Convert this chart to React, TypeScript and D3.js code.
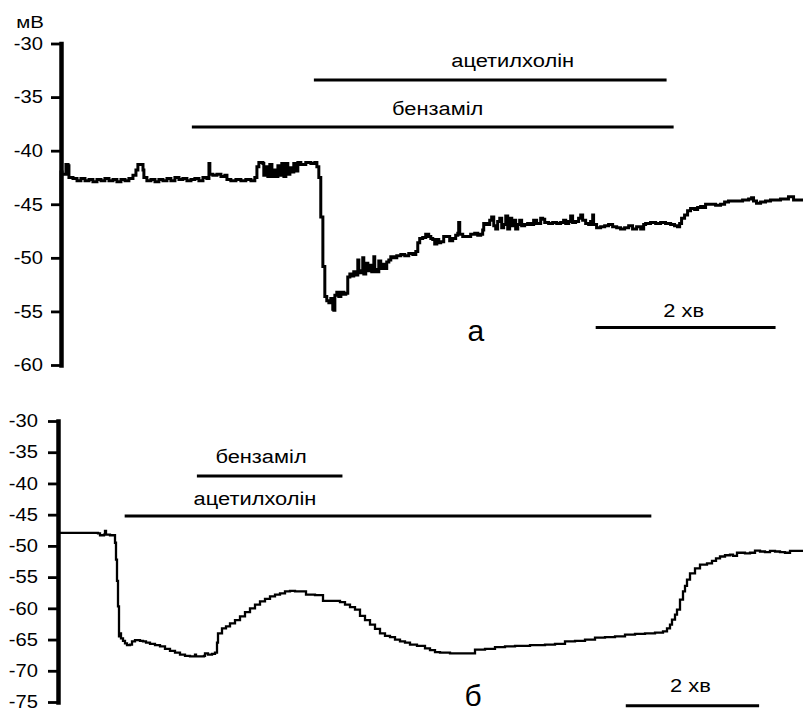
import React, { useEffect, useRef } from "react";
import * as d3 from "d3";

// ---------- DATA ----------
// Panel "а": time (s) and membrane potential (mV)
const TOP_T = [-1, 0, 0.7, 2, 3.3, 4.7, 5.3, 8, 10.7, 13.3, 16, 18.7, 21.3, 24, 26.7, 29.3, 32, 34.7, 37.3, 40, 42.7, 45.3, 48, 50, 51.3, 53.3, 54.7, 55.3, 57.3, 60, 62.7, 65.3, 68, 70.7, 73.3, 76, 78.7, 81.3, 84, 86.7, 89.3, 92, 94.7, 97.3, 98.7, 99.3, 101.3, 104, 106.7, 109.3, 110.7, 113.3, 116.7, 120, 123.3, 126.7, 129.3, 130.7, 132, 134.7, 135.3, 136.7, 138, 139.3, 140.7, 142, 143.3, 144.7, 146, 147.3, 148.7, 150, 151.3, 152.7, 154, 155.3, 156.7, 158, 160, 163.3, 166.7, 169.3, 170.7, 172, 173.3, 174.7, 176, 177.3, 178.7, 180, 181.3, 182, 182.7, 184, 185.3, 186.7, 188.7, 190, 191.3, 192.7, 194, 195.3, 196.7, 198, 198.7, 200, 201.3, 202, 203.3, 204.7, 206, 207.3, 208.7, 209.3, 210.7, 212, 213.3, 214.7, 216, 217.3, 218.7, 220, 222, 224, 226.7, 229.3, 232, 234.7, 236.7, 238, 239.3, 241.3, 243.3, 245.3, 246.7, 248, 249.3, 250.7, 252, 253.3, 255.3, 257.3, 259.3, 261.3, 263.3, 264.7, 265.3, 266, 268, 270.7, 273.3, 276, 278, 280, 281.3, 282, 284, 286, 287.3, 288.7, 290, 291.3, 292.7, 294, 295.3, 296.7, 298, 299.3, 300.7, 302, 303.3, 304.7, 306, 307.3, 309.3, 311.3, 313.3, 315.3, 317.3, 320, 321.3, 322.7, 325.3, 328, 330.7, 333.3, 335.3, 336.7, 338.7, 340, 341.3, 343.3, 345.3, 346.7, 348, 350, 352, 353.3, 354.7, 355.3, 357.3, 360, 362.7, 365.3, 368, 370.7, 373.3, 376, 378.7, 381.3, 384, 386.7, 388.7, 390, 393.3, 396.7, 400, 403.3, 406.7, 409.3, 411.3, 412.7, 414, 416, 418, 420, 422.7, 424.7, 426.7, 428.7, 430, 433.3, 436.7, 440, 442.7, 445.3, 450, 454.7, 458.7, 460.7, 462, 464, 466.7, 470, 473.3, 476.7, 480, 483.3, 485.3, 487.3, 488.7, 492, 495];
const TOP_MV = [-45.0, -42.0, -42.2, -42.2, -41.3, -41.4, -42.5, -42.6, -42.8, -42.6, -42.8, -42.7, -42.9, -42.7, -42.8, -42.6, -42.8, -42.7, -42.9, -42.7, -42.8, -42.6, -42.3, -41.8, -41.3, -41.3, -41.8, -42.5, -42.8, -42.7, -42.9, -42.7, -42.8, -42.6, -42.8, -42.5, -42.7, -42.6, -42.8, -42.7, -42.6, -42.8, -42.5, -42.6, -41.2, -42.2, -42.3, -42.2, -42.4, -42.3, -42.7, -42.8, -42.7, -42.8, -42.7, -42.8, -42.5, -41.5, -41.1, -41.2, -42.3, -41.5, -42.4, -41.3, -42.4, -41.8, -42.4, -41.4, -42.3, -41.2, -42.4, -41.2, -42.2, -41.6, -42.0, -41.2, -41.9, -41.1, -41.3, -41.1, -41.2, -41.1, -41.5, -42.5, -46.2, -50.8, -53.6, -54.0, -54.2, -53.8, -54.8, -54.9, -53.5, -53.2, -53.6, -53.2, -53.4, -53.3, -51.8, -51.5, -51.7, -51.3, -51.6, -50.2, -51.4, -51.2, -50.0, -51.5, -50.5, -51.2, -50.7, -51.3, -49.9, -51.1, -51.3, -50.3, -51.0, -50.6, -51.0, -50.4, -50.2, -49.9, -50.0, -49.8, -49.7, -49.8, -49.6, -49.7, -49.4, -48.6, -48.2, -48.1, -47.8, -48.0, -48.2, -48.3, -48.7, -48.3, -48.6, -48.5, -48.0, -48.0, -48.4, -48.2, -47.9, -47.7, -46.7, -47.8, -48.0, -48.0, -47.8, -47.7, -47.9, -47.8, -47.4, -46.8, -46.9, -46.5, -46.2, -47.0, -47.3, -46.6, -46.3, -47.2, -46.9, -46.1, -47.3, -46.3, -47.0, -46.5, -47.3, -46.9, -46.5, -47.0, -46.9, -46.8, -46.9, -46.5, -46.8, -46.3, -46.4, -46.7, -46.8, -46.7, -46.8, -46.7, -46.5, -46.8, -46.6, -46.1, -46.7, -46.6, -46.3, -46.0, -46.5, -46.8, -46.9, -46.6, -46.0, -46.9, -47.2, -47.1, -47.0, -46.9, -47.1, -47.2, -47.3, -47.2, -47.0, -47.3, -47.1, -47.3, -46.9, -46.8, -46.7, -46.8, -46.7, -46.8, -46.9, -47.0, -47.1, -46.8, -46.3, -46.0, -45.6, -45.4, -45.5, -45.3, -45.2, -45.3, -45.0, -45.0, -45.1, -45.0, -44.8, -44.7, -44.7, -44.6, -44.5, -44.4, -44.7, -44.9, -44.8, -44.7, -44.6, -44.6, -44.5, -44.5, -44.3, -44.3, -44.6, -44.6, -44.6];

// Panel "б": time (s) and membrane potential (mV)
const BOT_T = [0, 10.8, 19.8, 28.8, 36, 37.8, 41.4, 42.3, 43.2, 46.8, 50.4, 51.3, 52.2, 53.1, 54, 54.9, 55.8, 56.7, 58.5, 60.3, 62.1, 64.8, 66.6, 69.3, 73.8, 76.5, 79.2, 82.8, 87.3, 91.8, 96.3, 100.8, 105.3, 109.8, 114.3, 118.8, 123.3, 124.2, 127.8, 131.4, 132.3, 135, 138.6, 141.3, 143.1, 144, 147.6, 151.2, 154.8, 159.3, 163.8, 168.3, 172.8, 177.3, 181.8, 186.3, 190.8, 195.3, 199.8, 204.3, 208.8, 213.3, 217.8, 223.2, 231.3, 238.5, 244.8, 249.3, 253.8, 258.3, 262.8, 267.3, 271.8, 276.3, 280.8, 285.3, 289.8, 294.3, 298.8, 303.3, 307.8, 312.3, 316.8, 323.1, 330.3, 334.8, 339.3, 343.8, 352.8, 361.8, 370.8, 375.3, 384.3, 393.3, 402.3, 411.3, 424.8, 438.3, 447.3, 456.3, 465.3, 474.3, 483.3, 492.3, 501.3, 510.3, 519.3, 528.3, 537.3, 544.5, 548.1, 550.8, 552.6, 555.3, 557.1, 559.8, 562.5, 564.3, 566.1, 568.8, 573.3, 577.8, 584.1, 588.6, 592.2, 595.8, 600.3, 604.8, 607.5, 611.1, 618.3, 622.8, 627.3, 631.8, 636.3, 640.8, 645.3, 649.8, 654.3, 658.8, 663.3, 670.5];
const BOT_MV = [-47.9, -47.9, -47.9, -47.9, -48.0, -48.3, -48.2, -47.6, -48.2, -48.3, -48.3, -49.5, -52.2, -55.6, -59.7, -64.5, -64.0, -64.8, -65.2, -65.6, -65.9, -65.8, -65.3, -65.1, -65.2, -65.3, -65.5, -65.7, -65.9, -66.1, -66.5, -66.8, -67.1, -67.4, -67.6, -67.7, -67.4, -67.7, -67.7, -67.6, -67.2, -67.4, -67.3, -67.1, -65.5, -64.0, -63.2, -62.9, -62.4, -61.9, -61.3, -60.6, -60.0, -59.4, -58.9, -58.5, -58.1, -57.8, -57.6, -57.3, -57.2, -57.3, -57.3, -57.8, -57.9, -58.8, -58.8, -58.8, -59.0, -59.4, -59.8, -60.2, -61.2, -61.9, -62.6, -63.3, -64.0, -64.4, -64.6, -65.0, -65.3, -65.5, -65.8, -66.0, -66.4, -66.7, -67.0, -67.1, -67.2, -67.2, -67.2, -66.6, -66.5, -66.2, -66.1, -66.0, -65.9, -65.8, -65.7, -65.3, -65.2, -65.0, -64.7, -64.6, -64.5, -64.2, -64.1, -64.0, -63.9, -63.7, -63.2, -62.6, -61.8, -61.0, -60.2, -58.6, -57.3, -56.4, -55.4, -54.4, -53.6, -53.0, -52.8, -52.4, -52.0, -51.7, -51.5, -51.4, -51.6, -51.1, -51.2, -51.1, -50.75, -50.9, -51.0, -50.8, -50.9, -51.0, -51.1, -50.8, -50.8, -50.75];

// Axis ticks (mV)
const TOP_TICKS = [-30, -35, -40, -45, -50, -55, -60];
const BOT_TICKS = [-30, -35, -40, -45, -50, -55, -60, -65, -70, -75];

// Drug application bars: label, start (s), end (s), drawn level (mV)
const TOP_DRUGS = [
  { label: "ацетилхолін", start: 168.7, end: 404, level: -33.4 },
  { label: "бензаміл", start: 87.3, end: 408.7, level: -37.8 },
];
const BOT_DRUGS = [
  { label: "бензаміл", start: 125, end: 256, level: -38.8 },
  { label: "ацетилхолін", start: 60, end: 534, level: -45.2 },
];

// Time scale bars: start (s), length (s), label
const TOP_SCALEBAR = { start: 356.7, length: 120, label: "2 хв", level: -56.5 };
const BOT_SCALEBAR = { start: 511, length: 120, label: "2 хв", level: -75.6 };

// ---------- LAYOUT ----------
const W = 803;
const H = 712;
const FONT = "Arial, 'Liberation Sans', sans-serif";
const STRETCH = 1.15;

type Drug = { label: string; start: number; end: number; level: number };
type Panel = {
  t: number[];
  v: number[];
  ticks: number[];
  drugs: Drug[];
  drugLabelT: number[];
  drugLabelV: number[];
  bar: { start: number; length: number; label: string; level: number };
  barLabelV: number;
  panelLabel: string;
  panelLabelT: number;
  panelLabelV: number;
  xDomain: [number, number];
  xRange: [number, number];
  yDomain: [number, number];
  yRange: [number, number];
  lineW: number;
  labelEnd: number;
};

const PANELS: Panel[] = [
  {
    t: TOP_T,
    v: TOP_MV,
    ticks: TOP_TICKS,
    drugs: TOP_DRUGS,
    drugLabelT: [301.3, 251.3],
    drugLabelV: [-32.2, -36.7],
    bar: TOP_SCALEBAR,
    barLabelV: -55.5,
    panelLabel: "а",
    panelLabelT: 276.7,
    panelLabelV: -57.8,
    xDomain: [0, 495],
    xRange: [61, 803],
    yDomain: [-60, -30],
    yRange: [365, 43.5],
    lineW: 3,
    labelEnd: 18,
  },
  {
    t: BOT_T,
    v: BOT_MV,
    ticks: BOT_TICKS,
    drugs: BOT_DRUGS,
    drugLabelT: [182.7, 177.3],
    drugLabelV: [-36.7, -43.4],
    bar: BOT_SCALEBAR,
    barLabelV: -73.4,
    panelLabel: "б",
    panelLabelT: 373.5,
    panelLabelV: -75.6,
    xDomain: [0, 670.5],
    xRange: [58, 803],
    yDomain: [-75, -30],
    yRange: [702, 421],
    lineW: 2.3,
    labelEnd: 20,
  },
];

function stretchedText(
  g: any,
  x: number,
  y: number,
  txt: string,
  size: number,
  sx = STRETCH
) {
  g.append("text")
    .attr("transform", `translate(${x},${y}) scale(${sx},1)`)
    .attr("text-anchor", "middle")
    .attr("font-family", FONT)
    .attr("font-size", size)
    .attr("fill", "#000")
    .text(txt);
}

export default function App() {
  const ref = useRef<SVGSVGElement | null>(null);

  useEffect(() => {
    const svg = d3.select(ref.current as SVGSVGElement);
    svg.selectAll("*").remove();
    const root = svg.append("g");

    PANELS.forEach((p, pi) => {
      const x = d3.scaleLinear().domain(p.xDomain).range(p.xRange);
      const y = d3.scaleLinear().domain(p.yDomain).range(p.yRange);
      const g = root.append("g");

      // trace
      const idx = d3.range(p.t.length);
      const line = d3
        .line<number>()
        .x((i) => x(p.t[i]))
        .y((i) => y(p.v[i]))
        .curve(d3.curveStepAfter);
      g.append("path")
        .attr("d", line(idx) as string)
        .attr("fill", "none")
        .attr("stroke", "#000")
        .attr("stroke-width", p.lineW)
        .attr("stroke-linejoin", "miter");

      // y axis
      const ax = g
        .append("g")
        .attr("transform", `translate(${p.xRange[0]},0)`)
        .call(
          d3
            .axisLeft(y)
            .tickValues(p.ticks)
            .tickSize(10)
            .tickSizeOuter(0)
            .tickPadding(4)
            .tickFormat((d) => `${d}`)
        );
      ax.select(".domain")
        .attr("stroke", "#000")
        .attr("stroke-width", 4.5)
        .attr("stroke-linecap", "square");
      ax.selectAll(".tick line").attr("stroke", "#000").attr("stroke-width", 2.8);
      ax.selectAll(".tick text")
        .attr("font-family", FONT)
        .attr("font-size", 18)
        .attr("fill", "#000")
        .attr("x", -p.labelEnd / 1.12)
        .attr("transform", "scale(1.12,1)");

      // units label
      if (pi === 0) {
        stretchedText(g, 30, y(-28.55), "мВ", 17, 1.2);
      }

      // drug bars
      p.drugs.forEach((d, di) => {
        g.append("line")
          .attr("x1", x(d.start))
          .attr("x2", x(d.end))
          .attr("y1", y(d.level))
          .attr("y2", y(d.level))
          .attr("stroke", "#000")
          .attr("stroke-width", 3);
        stretchedText(g, x(p.drugLabelT[di]), y(p.drugLabelV[di]), d.label, 19);
      });

      // time scale bar
      g.append("line")
        .attr("x1", x(p.bar.start))
        .attr("x2", x(p.bar.start + p.bar.length))
        .attr("y1", y(p.bar.level))
        .attr("y2", y(p.bar.level))
        .attr("stroke", "#000")
        .attr("stroke-width", 3.2);
      stretchedText(
        g,
        x(p.bar.start + p.bar.length / 2) - 2,
        y(p.barLabelV),
        p.bar.label,
        19
      );

      // panel letter
      stretchedText(g, x(p.panelLabelT), y(p.panelLabelV), p.panelLabel, 30, 1.0);
    });
  }, []);

  return (
    <svg
      ref={ref}
      width={W}
      height={H}
      viewBox={`0 0 ${W} ${H}`}
      style={{ position: "absolute", left: 0, top: 0, background: "#fff" }}
    />
  );
}
